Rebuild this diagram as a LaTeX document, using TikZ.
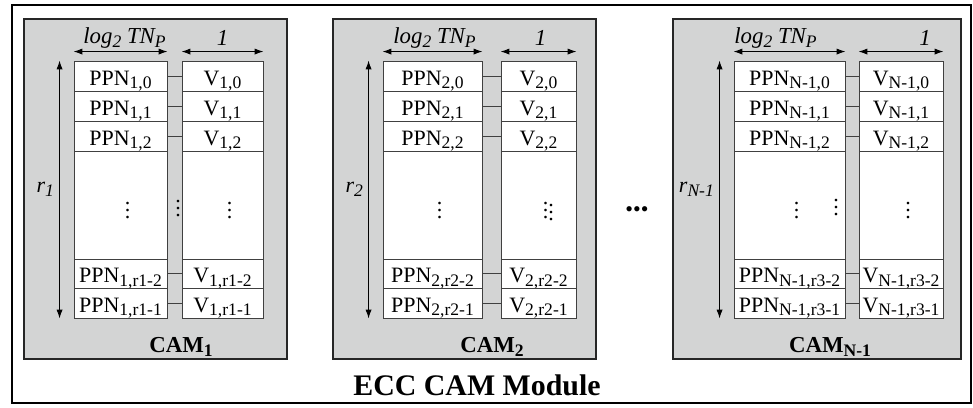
\documentclass[tikz,border=0pt]{standalone}
\usepackage{fontspec}
\setmainfont{Liberation Serif}
\usetikzlibrary{arrows.meta}
\definecolor{camgray}{RGB}{211,212,212}
\newcommand\lo[1]{\raisebox{-.35ex}{\fontsize{10}{10}\selectfont #1}}

\begin{document}
\begin{tikzpicture}[x=.02cm,y=-.02cm,font=\fontsize{12.5}{14}\selectfont,
  frame/.style={draw,line width=1.4pt,inner sep=0},
  cambox/.style={draw=black!85,fill=camgray,line width=.8pt,inner sep=0},
  cell/.style={draw=black!75,fill=white,line width=.5pt,inner sep=0,text height=10.4pt,text depth=0pt},
  link/.style={draw=black!75,line width=.5pt},
  dim/.style={{Latex[length=5pt,width=3.5pt]}-{Latex[length=5pt,width=3.5pt]},line width=.5pt}]
\useasboundingbox (0,0) rectangle (973,408);
\node[frame,minimum width=19.18cm,minimum height=7.96cm] (module) at (491.5,204) {};
\node[font=\fontsize{17}{20}\selectfont\bfseries] (title) at (477,385) {ECC CAM Module};
\foreach \c/\s/\e/\bl/\br/\pl/\pr/\vl/\vr/\lx/\ox/\mx in
  {1/1/r1/24/287/74/167/182/263/4/0/181,
   2/2/r2/333/596/383/482/501/576/2/2/492,
   3/N-1/r3/673/961/734/845/859/943/-14/24/830}{
  \node[cambox,minimum width={(\br-\bl)*.02cm},minimum height=6.8cm] (cam\c) at ({(\bl+\br)/2},189) {};
  \foreach \k/\t/\b/\j in {0/61/91/0,1/91/121/1,2/121/151/2,4/259/288/\e-2,5/288/318/\e-1}{
    \node[cell,minimum width={(\pr-\pl)*.02cm},minimum height={(\b-\t)*.02cm}] (p\c-\k) at ({(\pl+\pr)/2},{(\t+\b)/2}) {PPN\lo{\s,\j}};
    \node[cell,minimum width={(\vr-\vl)*.02cm},minimum height={(\b-\t)*.02cm}] (v\c-\k) at ({(\vl+\vr)/2},{(\t+\b)/2}) {V\lo{\s,\j}};
    \draw[link] (p\c-\k) -- (v\c-\k);
  }
  % middle rows, dots a little right of centre
  \node[cell,text height=,text depth=,minimum width={(\pr-\pl)*.02cm},minimum height=2.16cm] (p\c-3) at ({(\pl+\pr)/2},205) {\hspace{.28cm}$\vdots$};
  \node[cell,text height=,text depth=,minimum width={(\vr-\vl)*.02cm},minimum height=2.16cm] (v\c-3) at ({(\vl+\vr)/2},205) {\hspace{.28cm}$\vdots$};
  \draw[dim] ([yshift=.18cm]p\c-0.north west) -- ([yshift=.18cm]p\c-0.north east);
  \draw[dim] ([yshift=.18cm]v\c-0.north west) -- ([yshift=.18cm]v\c-0.north east);
  \draw[dim] ([xshift=-.28cm]p\c-0.north west) -- node[left,inner sep=3pt] (r\c) {\textit{r\lo{\s}}} ([xshift=-.28cm]p\c-5.south west);
  \node[font=\fontsize{13}{14}\selectfont] (lg\c) at ({(\pl+\pr)/2+(\lx)},38) {\textit{log\lo{2} TN\lo{P}}};
  \node[font=\fontsize{13}{14}\selectfont] (one\c) at ({(\vl+\vr)/2+(\ox)},38) {\textit{1}};
  \node[font=\fontsize{13}{14}\selectfont\bfseries] (lab\c) at (\mx,347) {CAM\lo{\s}};
}
\node (gapdots) at (178,203) {$\vdots$};
\node (vdots2) at (551,207) {$\vdots$};
\node (pdots3) at (836,202) {$\vdots$};
\node (more) at (637,212) {\textbullet\textbullet\textbullet};
\end{tikzpicture}
\end{document}
